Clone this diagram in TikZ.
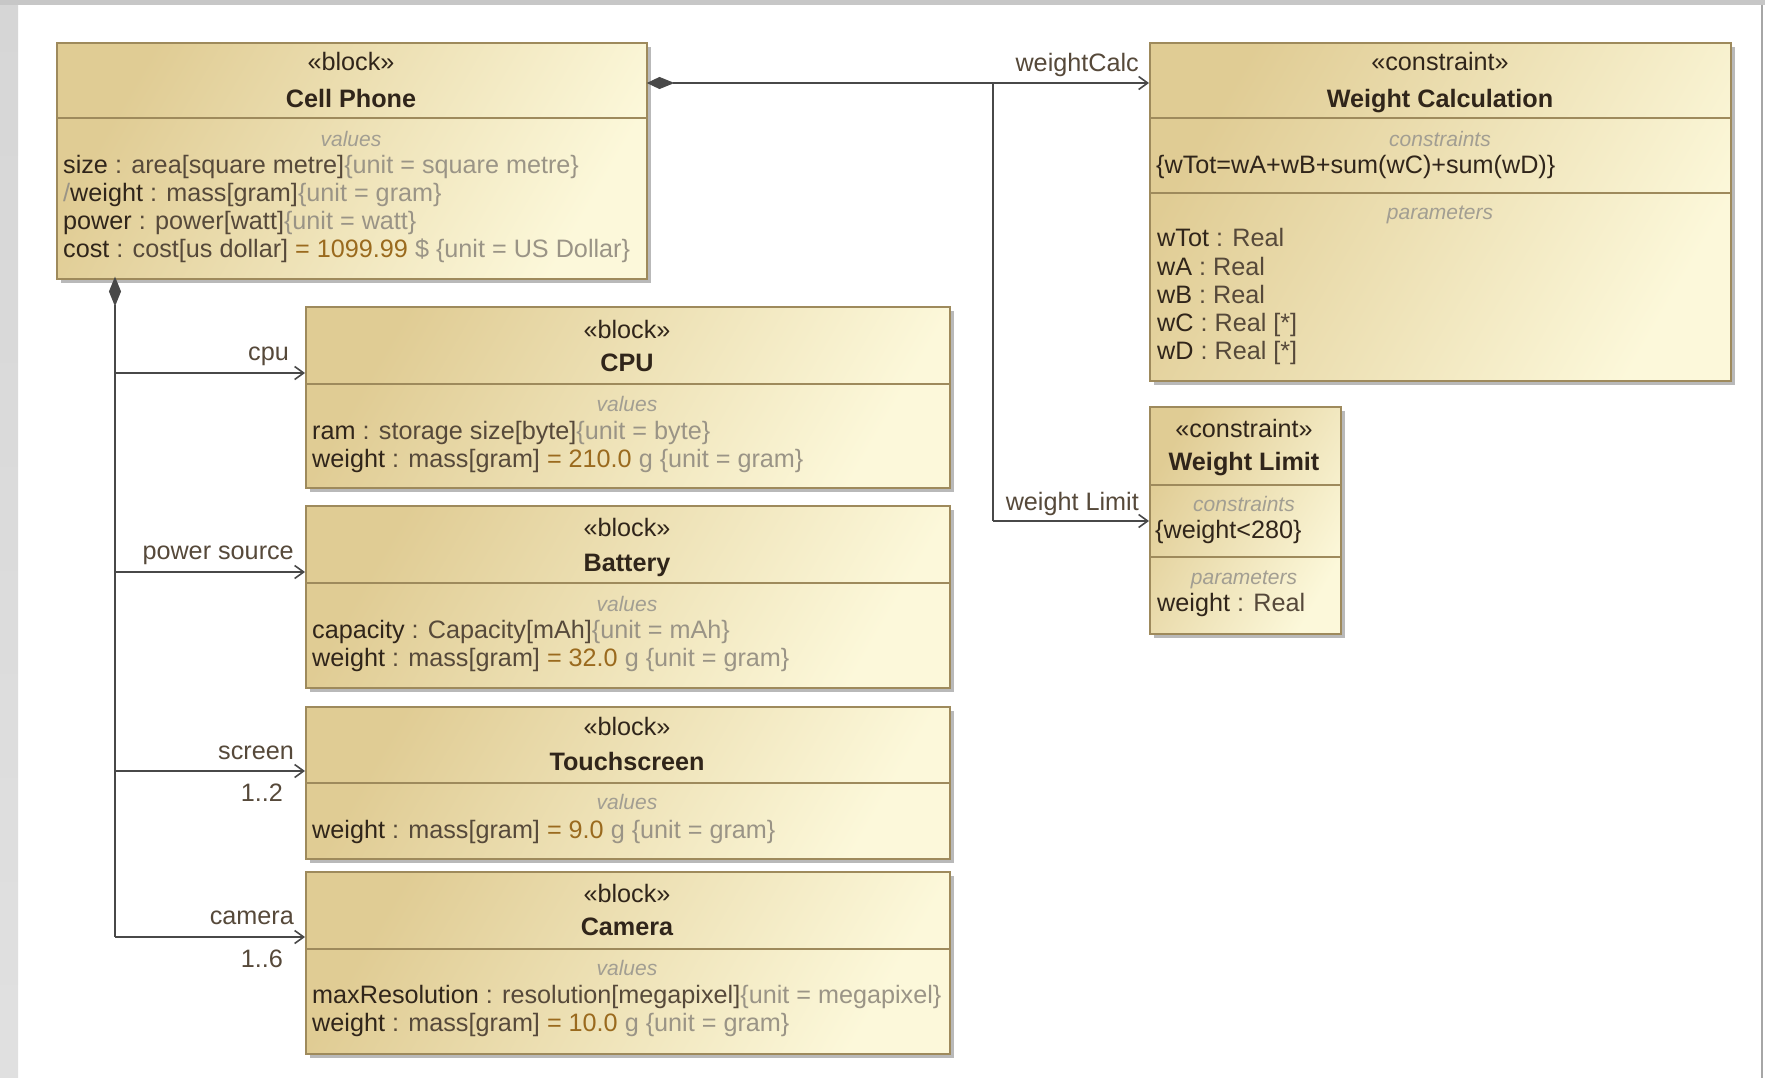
\documentclass[tikz,border=0pt]{standalone}
\usepackage{fontspec}
\setmainfont{Liberation Sans}
\usetikzlibrary{arrows.meta,shadows,calc}

\definecolor{boxtan}{HTML}{E0CC94}
\definecolor{boxcream}{HTML}{FCF8DA}
\definecolor{boxedge}{HTML}{9E8A5C}
\definecolor{nmcol}{HTML}{30251A}
\definecolor{tpcol}{HTML}{56493A}
\definecolor{dvcol}{HTML}{9A6A1E}
\definecolor{uncol}{HTML}{9A9486}
\definecolor{lblcol}{HTML}{A29E92}
\definecolor{linecol}{HTML}{484848}
\definecolor{stripgray}{HTML}{D6D6D6}

\newcommand\rowfont{\fontsize{25.2}{28}\selectfont}
\newcommand\lblfont{\fontsize{21}{24}\selectfont\itshape}
% coloured runs of a property line; \relax keeps a leading space
\newcommand\pn[1]{{\color{nmcol}\relax#1}}
\newcommand\pt[1]{{\color{tpcol}\relax#1}}
\newcommand\pv[1]{{\color{dvcol}\relax#1}}
\newcommand\pu[1]{{\color{uncol}\relax#1}}

\tikzset{
  blockbox/.style={draw=boxedge, line width=2pt, left color=boxtan, right color=boxcream,
    shading angle=60, anchor=north west, inner sep=0pt,
    drop shadow={shadow xshift=4pt, shadow yshift=-4pt, fill=black!50, opacity=.55}},
  sepline/.style={draw=boxedge, line width=2pt},
  rowtxt/.style={anchor=west, inner sep=0pt, text height=.75em, text depth=.25em, font=\rowfont, yshift=-7pt},
  headtxt/.style={anchor=center, inner sep=0pt, text height=.75em, text depth=.25em, font=\rowfont, text=nmcol, yshift=-7pt},
  nametxt/.style={headtxt, font=\rowfont\bfseries},
  lbltxt/.style={anchor=center, inner sep=0pt, text height=.75em, text depth=.25em, font=\lblfont, text=lblcol, yshift=-7pt},
  roletxt/.style={anchor=east, inner sep=0pt, text height=.75em, text depth=.25em, font=\rowfont, text=tpcol, yshift=-7pt},
  trunk/.style={draw=linecol, line width=2.4pt},
  assoc/.style={draw=linecol, line width=1.7pt, -{Straight Barb[length=9pt,width=13pt,line width=1.6pt]}},
  branch/.style={draw=linecol, line width=1.7pt},
  diam/.style={fill=linecol, draw=linecol, line width=1pt}
}

\begin{document}
\begin{tikzpicture}[x=1pt,y=-1pt]
% canvas
\fill[white] (0,0) rectangle (1765,1078);
\useasboundingbox (0,0) rectangle (1765,1078);
\shade[top color=stripgray, bottom color=black!12] (0,0) rectangle (18,1078);
\fill[black!22] (0,0) rectangle (1765,5);
\draw[black!35, line width=1.5pt] (1762,5) -- (1762,1078);

% ---------- Cell Phone ----------
\node[blockbox, minimum width=590pt, minimum height=236pt] (cell) at (56,42) {};
\draw[sepline] (56,118) -- (646,118);
\node[headtxt] (cellst) at (351,61) {«block»};
\node[nametxt] (cellnm) at (351,98) {Cell Phone};
\node[lbltxt] (cellvl) at (351,137) {values};
\node[rowtxt] (cellr1) at (63,164) {\pn{size}\pt{ : area[square metre]}\pu{\{unit = square metre\}}};
\node[rowtxt] (cellr2) at (63,192) {\pu{/}\pn{weight}\pt{ : mass[gram]}\pu{\{unit = gram\}}};
\node[rowtxt] (cellr3) at (63,220) {\pn{power}\pt{ : power[watt]}\pu{\{unit = watt\}}};
\node[rowtxt] (cellr4) at (63,248) {\pn{cost}\pt{ : cost[us dollar] }\pv{= 1099.99}\pu{ \$ \{unit = US Dollar\}}};

% ---------- CPU ----------
\node[blockbox, minimum width=644pt, minimum height=181pt] (cpu) at (305,306) {};
\draw[sepline] (305,384) -- (949,384);
\node[headtxt] (cpust) at (627,329) {«block»};
\node[nametxt] (cpunm) at (627,362) {CPU};
\node[lbltxt] (cpuvl) at (627,402) {values};
\node[rowtxt] (cpur1) at (312,430) {\pn{ram}\pt{ : storage size[byte]}\pu{\{unit = byte\}}};
\node[rowtxt] (cpur2) at (312,458) {\pn{weight}\pt{ : mass[gram] }\pv{= 210.0}\pu{ g \{unit = gram\}}};

% ---------- Battery ----------
\node[blockbox, minimum width=644pt, minimum height=182pt] (bat) at (305,505) {};
\draw[sepline] (305,583) -- (949,583);
\node[headtxt] (batst) at (627,527) {«block»};
\node[nametxt] (batnm) at (627,562) {Battery};
\node[lbltxt] (batvl) at (627,602) {values};
\node[rowtxt] (batr1) at (312,629) {\pn{capacity}\pt{ : Capacity[mAh]}\pu{\{unit = mAh\}}};
\node[rowtxt] (batr2) at (312,657) {\pn{weight}\pt{ : mass[gram] }\pv{= 32.0}\pu{ g \{unit = gram\}}};

% ---------- Touchscreen ----------
\node[blockbox, minimum width=644pt, minimum height=152pt] (scr) at (305,706) {};
\draw[sepline] (305,783) -- (949,783);
\node[headtxt] (scrst) at (627,726) {«block»};
\node[nametxt] (scrnm) at (627,761) {Touchscreen};
\node[lbltxt] (scrvl) at (627,800) {values};
\node[rowtxt] (scrr1) at (312,829) {\pn{weight}\pt{ : mass[gram] }\pv{= 9.0}\pu{ g \{unit = gram\}}};

% ---------- Camera ----------
\node[blockbox, minimum width=644pt, minimum height=182pt] (cam) at (305,871) {};
\draw[sepline] (305,949) -- (949,949);
\node[headtxt] (camst) at (627,893) {«block»};
\node[nametxt] (camnm) at (627,926) {Camera};
\node[lbltxt] (camvl) at (627,966) {values};
\node[rowtxt] (camr1) at (312,994) {\pn{maxResolution}\pt{ : resolution[megapixel]}\pu{\{unit = megapixel\}}};
\node[rowtxt] (camr2) at (312,1022) {\pn{weight}\pt{ : mass[gram] }\pv{= 10.0}\pu{ g \{unit = gram\}}};

% ---------- Weight Calculation ----------
\node[blockbox, minimum width=581pt, minimum height=338pt] (wcalc) at (1149,42) {};
\draw[sepline] (1149,118) -- (1730,118);
\draw[sepline] (1149,193) -- (1730,193);
\node[headtxt] (wcst) at (1440,61) {«constraint»};
\node[nametxt] (wcnm) at (1440,98) {Weight Calculation};
\node[lbltxt] (wccl) at (1440,137) {constraints};
\node[rowtxt, text=nmcol] (wcf) at (1156,164) {\{wTot=wA+wB+sum(wC)+sum(wD)\}};
\node[lbltxt] (wcpl) at (1440,210) {parameters};
\node[rowtxt] (wcp1) at (1157,237) {\pn{wTot}\pt{ : Real}};
\node[rowtxt] (wcp2) at (1157,266) {\pn{wA}\pt{ : Real}};
\node[rowtxt] (wcp3) at (1157,294) {\pn{wB}\pt{ : Real}};
\node[rowtxt] (wcp4) at (1157,322) {\pn{wC}\pt{ : Real [*]}};
\node[rowtxt] (wcp5) at (1157,350) {\pn{wD}\pt{ : Real [*]}};

% ---------- Weight Limit ----------
\node[blockbox, minimum width=191pt, minimum height=227pt] (wlim) at (1149,406) {};
\draw[sepline] (1149,485) -- (1340,485);
\draw[sepline] (1149,557) -- (1340,557);
\node[headtxt] (wlst) at (1244,428) {«constraint»};
\node[nametxt] (wlnm) at (1244,461) {Weight Limit};
\node[lbltxt] (wlcl) at (1244,502) {constraints};
\node[rowtxt, text=nmcol] (wlf) at (1155,529) {\{weight<280\}};
\node[lbltxt] (wlpl) at (1244,575) {parameters};
\node[rowtxt] (wlp1) at (1157,602) {\pn{weight}\pt{ : Real}};

% ---------- composition: Cell Phone -> constraint blocks ----------
\coordinate (rdtip) at (cell.east |- 0,83);
\coordinate (rdend) at (673,83);
\coordinate (rjoin) at (993,83);
\coordinate (rbend) at (993,521);
\fill[diam] (rdtip) -- (659.5,77.5) -- (rdend) -- (659.5,88.5) -- cycle;
\draw[trunk] (rdend) -- (rjoin);
\draw[assoc, line width=2.2pt] (rjoin) -- (rjoin -| wcalc.west);
\draw[branch] (rjoin) -- (rbend);
\draw[assoc] (rbend) -- (rbend -| wlim.west);
\node[roletxt] (lwc) at (1139,62) {weightCalc};
\node[roletxt] (lwl) at (1139,501) {weight Limit};

% ---------- composition: Cell Phone -> part blocks ----------
\coordinate (ldtip) at (115,278);
\coordinate (ldend) at (115,305);
\coordinate (lbot) at (115,937);
\fill[diam] (ldtip) -- (109.5,291.5) -- (ldend) -- (120.5,291.5) -- cycle;
\draw[trunk] (ldend) -- (lbot);
\coordinate (jcpu) at (115,373);
\coordinate (jbat) at (115,572);
\coordinate (jscr) at (115,771);
\draw[assoc] (jcpu) -- (jcpu -| cpu.west);
\draw[assoc] (jbat) -- (jbat -| bat.west);
\draw[assoc] (jscr) -- (jscr -| scr.west);
\draw[assoc] (lbot) -- (lbot -| cam.west);
\node[roletxt] (lcpu) at (289,351) {cpu};
\node[roletxt] (lbat) at (294,550) {power source};
\node[roletxt] (lscr) at (294,750) {screen};
\node[roletxt] (mscr) at (283,792) {1..2};
\node[roletxt] (lcam) at (294,915) {camera};
\node[roletxt] (mcam) at (283,958) {1..6};
\end{tikzpicture}
\end{document}
